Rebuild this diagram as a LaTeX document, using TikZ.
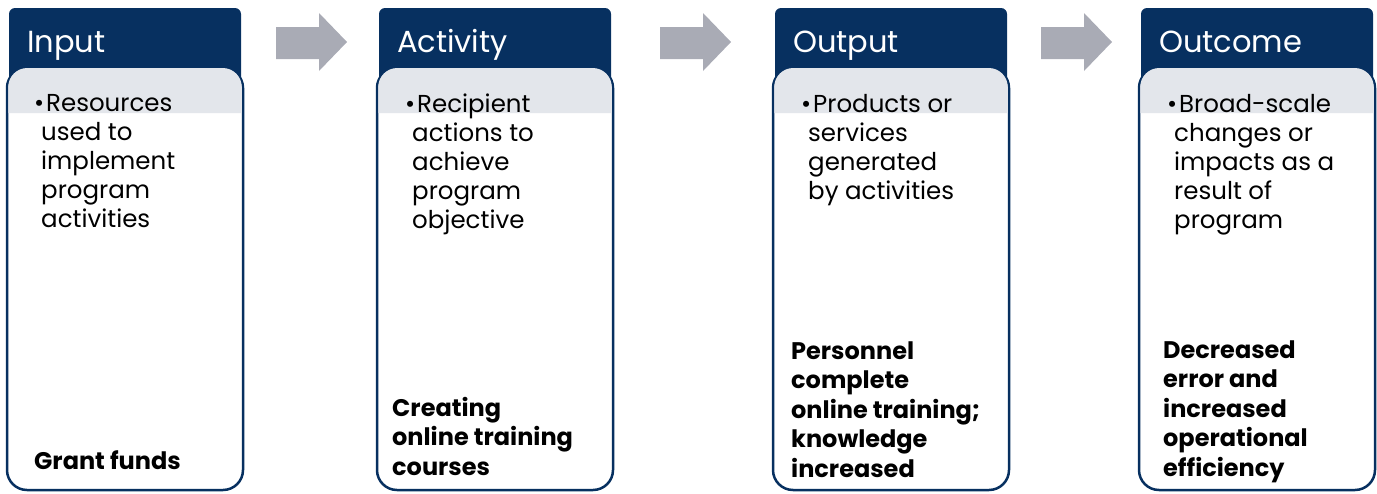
\documentclass[tikz,border=0pt]{standalone}
\usepackage{fontspec}
\setmainfont{Poppins}
\usepackage{tikz}

\definecolor{navy}{RGB}{7,48,96}
\definecolor{arrowgray}{RGB}{169,171,181}
\definecolor{bandgray}{RGB}{227,230,235}
\newcommand{\bul}{\strut\hspace*{-7pt}\makebox[12pt][l]{\textbullet}}

\begin{document}
\begin{tikzpicture}[x=1pt,y=-1pt,
	headbox/.style={fill=navy, rounded corners=6pt, minimum width=232pt, minimum height=100pt, anchor=north west, inner sep=0pt, outer sep=0pt},
	bodybox/.style={draw=navy, line width=2.5pt, fill=white, rounded corners=20pt, minimum width=236pt, minimum height=422pt, anchor=north west, inner sep=0pt, outer sep=0pt},
	title/.style={anchor=base west, text=white, inner sep=0pt, font=\fontsize{30.5}{36}\selectfont},
	point/.style={anchor=north west, align=left, inner sep=0pt, font=\fontsize{24.5}{29}\selectfont},
	result/.style={anchor=north west, align=left, inner sep=0pt, font=\fontsize{24}{29.5}\selectfont\bfseries},
	flow/.style={fill=arrowgray}]
	\useasboundingbox (0,0) rectangle (1377,493);
	%\draw[help lines] (0,0) grid[step=50] (1377,493);
	\foreach \n/\x in {In/7, Ac/377, Ou/773, Oc/1139} {
		\node[headbox] (hd\n) at (\x+2,8) {};
		\node[bodybox] (bd\n) at (\x,68) {};
		\fill[bandgray] (\x+1.25,113) [rounded corners=19pt] -- (\x+1.25,68) -- (\x+234.75,68) [sharp corners] -- (\x+234.75,113) -- cycle;
	}
	\foreach \a in {276,660,1041}
		\fill[flow] (\a,27) -- (\a+43,27) -- (\a+43,13) -- (\a+71,42) -- (\a+43,71) -- (\a+43,59) -- (\a,59) -- cycle;
	\node[title] (tiIn) at (27,52) {Input};
	\node[title] (tiAc) at (397,52) {Activity};
	\node[title] (tiOu) at (793,52) {Output};
	\node[title] (tiOc) at (1159,52) {Outcome};
	\node[point] (ptIn) at (41,90.7) {\bul Resources\\used to\\implement\\program\\activities};
	\node[point] (ptAc) at (412,91.7) {\bul Recipient\\actions to\\achieve\\program\\objective};
	\node[point] (ptOu) at (808,91.7) {\bul Products or\\services\\generated\\by activities};
	\node[point] (ptOc) at (1174,91.7) {\bul Broad-scale\\changes or\\impacts as a\\result of\\program};
	\node[result] (rsIn) at (34,448.3) {\strut Grant funds};
	\node[result] (rsAc) at (392,395.3) {\strut Creating\\online training\\courses};
	\node[result] (rsOu) at (791,338.3) {\strut Personnel\\complete\\online training;\\knowledge\\increased};
	\node[result] (rsOc) at (1163,337.3) {\strut Decreased\\error and\\increased\\operational\\efficiency};
\end{tikzpicture}
\end{document}
